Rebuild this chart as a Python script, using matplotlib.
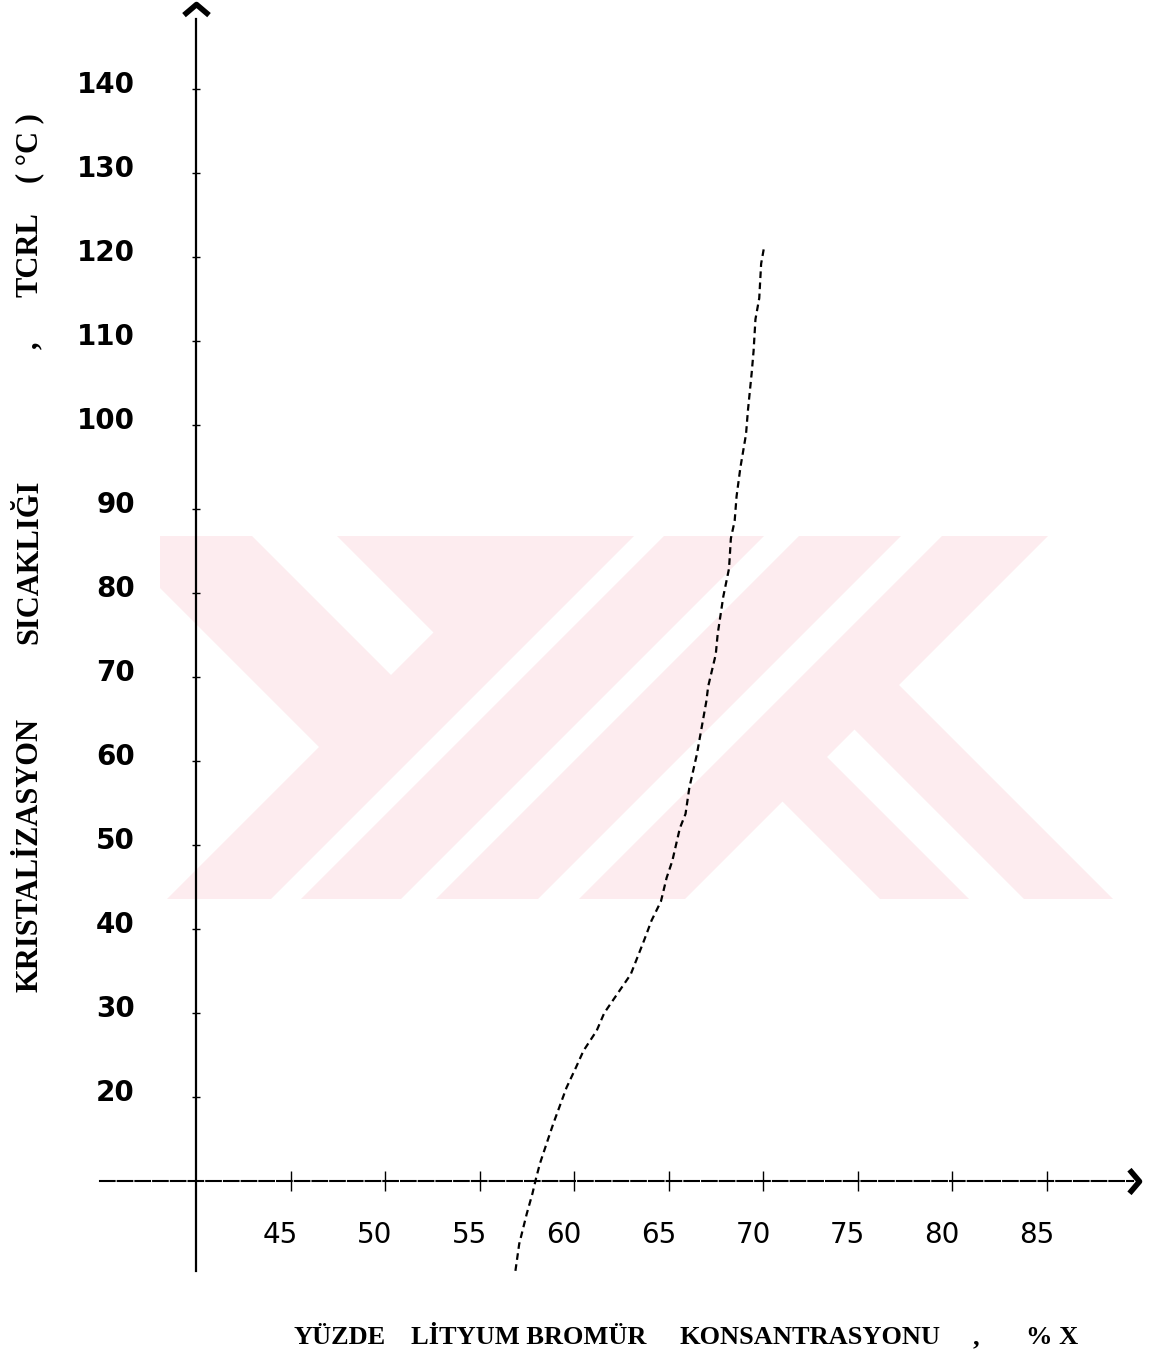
import matplotlib.pyplot as plt
from matplotlib.path import Path
from matplotlib.patches import Polygon
from matplotlib.transforms import ScaledTranslation

# LiBr crystallization line
conc = [56.9, 57.1, 57.5, 57.8, 58.0, 58.2, 58.6, 58.9, 59.6, 60.1, 60.5,
        61.2, 61.6, 62.3, 63.0, 63.7, 64.1, 64.6, 64.9, 65.2, 65.6, 65.9,
        66.1, 66.5, 67.0, 67.1, 67.5, 67.6, 67.9, 68.2, 68.3, 68.5, 68.6,
        68.8, 69.1, 69.2, 69.4, 69.5, 69.6, 69.8, 69.9, 70.05]
tcrl = [-0.7, 2.5, 6.1, 8.5, 10.4, 12.1, 14.8, 16.8, 21.1, 23.5, 25.5,
        27.9, 30.0, 32.3, 34.6, 38.6, 41.0, 43.3, 46.1, 48.1, 52.0, 53.7,
        56.8, 60.8, 67.1, 68.9, 72.7, 75.1, 79.6, 82.9, 86.5, 88.6, 91.5,
        94.9, 98.9, 101.7, 106.2, 108.8, 112.6, 115.1, 119.2, 121.1]

xticks = [45, 50, 55, 60, 65, 70, 75, 80, 85]
yticks = [20, 30, 40, 50, 60, 70, 80, 90, 100, 110, 120, 130, 140]

W, H = 1152, 1364
fig = plt.figure(figsize=(W / 100, H / 100), dpi=100)

# pale pink watermark, drawn in pixel coords
top, bot = 536, 899
wm = fig.add_axes([160 / W, 1 - bot / H, (W - 160) / W, (bot - top) / H])
wm.set_xlim(160, W)
wm.set_ylim(bot, top)
wm.axis("off")
pink = "#fdecef"


def band(pts):
    wm.add_patch(Polygon(pts, closed=True, fc=pink, ec="none"))


# first slash band together with the inner part of the Y
c1, c2 = 1066, 1170
band([(top - 199, top), (c2 - top, top), (c2 - bot, bot), (c1 - bot, bot),
      ((c1 - 199) / 2, (c1 + 199) / 2)])
for c1, c2 in [(1200, 1300), (1335, 1437), (1478, 1584)]:
    band([(c1 - top, top), (c2 - top, top), (c2 - bot, bot), (c1 - bot, bot)])
# outer left arm of the Y, runs into the first band
s = 1072
d1, d2 = -428, -284
band([(top + d1, top), (top + d2, top), ((s + d2) / 2, (s - d2) / 2),
      ((s + d1) / 2, (s - d1) / 2)])
# legs of the K
s = 1580
for d1, d2 in [(-19, 70), (125, 214)]:
    band([((s + d1) / 2, (s - d1) / 2), ((s + d2) / 2, (s - d2) / 2),
          (bot + d2, bot), (bot + d1, bot)])
wm.set_zorder(1)

ax = fig.add_axes([0, 0, 1, 1])
ax.set_zorder(2)
ax.patch.set_alpha(0)
ax.set_xlim(29.63, 90.58)
ax.set_ylim(-11.79, 150.6)

for sp in ["top", "right"]:
    ax.spines[sp].set_visible(False)
ax.spines["left"].set_position(("data", 40))
ax.spines["bottom"].set_position(("data", 10))
ax.spines["left"].set_bounds(-0.7, 148.3)
ax.spines["bottom"].set_bounds(34.9, 89.6)
ax.spines["left"].set_linewidth(1.6)
ax.spines["bottom"].set_linewidth(1.5)
ax.spines["bottom"].set_linestyle((0, (7, 1.5)))

ax.set_xticks(xticks)
ax.set_xticklabels([str(v) for v in xticks])
ax.set_yticks(yticks)
ax.set_yticklabels([str(v) for v in yticks])
ax.tick_params(axis="x", direction="inout", length=14, width=1, labelsize=20, pad=22)
ax.tick_params(axis="y", direction="inout", length=6, width=1, labelsize=20, pad=41)
for lab in ax.get_yticklabels():
    lab.set_fontweight("bold")
    lab.set_transform(lab.get_transform() + ScaledTranslation(0, 0.07, fig.dpi_scale_trans))
for lab in ax.get_xticklabels():
    lab.set_transform(lab.get_transform() + ScaledTranslation(-0.1, 0, fig.dpi_scale_trans))

# open chevron arrow heads
up = Path([(-1, -0.85), (0, 0), (1, -0.85)], [Path.MOVETO, Path.LINETO, Path.LINETO])
right = Path([(-0.85, 1), (0, 0), (-0.85, -1)], [Path.MOVETO, Path.LINETO, Path.LINETO])
ax.plot([40], [150.1], marker=up, ms=18, mew=4, mfc="none", color="black", clip_on=False)
ax.plot([89.9], [10], marker=right, ms=17, mew=4, mfc="none", color="black", clip_on=False)

ax.plot(conc, tcrl, color="black", lw=1.6, ls=(0, (3, 2)))

# axis titles, typed in pieces like the original
serif = dict(fontweight="bold", family="Liberation Serif", va="center")
for txt, xp in [("YÜZDE", 340), ("LİTYUM BROMÜR", 529), ("KONSANTRASYONU", 810),
                (",", 976), ("% X", 1052)]:
    fig.text(xp / W, 1 - 1338 / H, txt, ha="center", fontsize=19, **serif)
for txt, yp in [("KRISTALİZASYON", 855), ("SICAKLIĞI", 562), (",", 345),
                ("TCRL", 255), ("( °C )", 148)]:
    fig.text(30 / W, 1 - yp / H, txt, ha="center", rotation=90, fontsize=22, **serif)

plt.savefig("out.png", dpi=100)
